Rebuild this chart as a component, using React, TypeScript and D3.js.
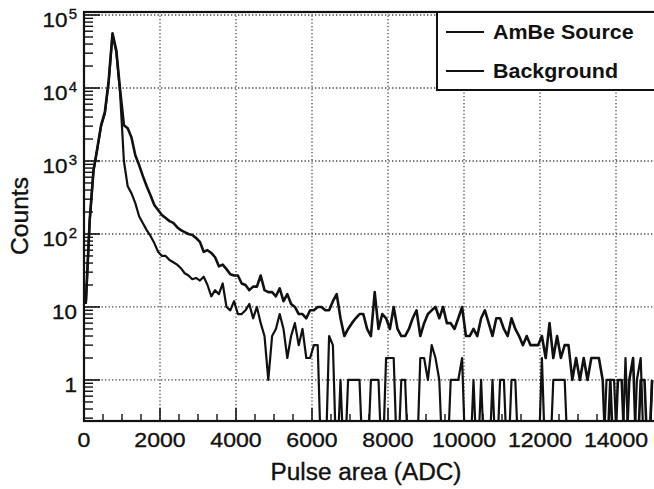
import React from 'react';
import * as d3 from 'd3';

const BIN_WIDTH = 100;

const ambeCounts = [
  12, 155, 750, 1500, 3100, 4700, 12700, 56000, 33000, 9400,
  3100, 2800, 2100, 1200, 880, 620, 450, 340, 250, 213,
  182, 165, 150, 142, 124, 113, 106, 100, 97, 88,
  78, 57, 60, 55, 48, 36, 38, 33, 28, 27,
  27, 21, 20, 17, 19, 19, 27, 17, 16, 16,
  14, 18, 12, 15, 11, 10, 8, 8, 7, 9,
  9, 10, 10, 9, 9, 12, 15, 7, 4, 5,
  6, 7, 8, 8, 5, 4, 16, 5, 8, 7,
  5, 10, 5, 4, 4, 5, 7, 9, 4, 6,
  8, 9, 10, 7, 10, 6, 6, 5, 7, 10,
  4, 4, 5, 4, 7, 9, 6, 4, 7, 7,
  5, 4, 7, 5, 4, 3, 4, 3, 3, 3,
  4, 2, 6, 2, 4, 2, 3, 3, 1, 2,
  1, 2, 1, 2, 2, 2, 1, 0, 1, 0,
  1, 1, 0, 1, 2, 0, 1, 1, 0, 1,
];

const backgroundCounts = [
  11, 150, 720, 1450, 3000, 4500, 12000, 54000, 31000, 8500,
  1000, 450, 360, 265, 175, 140, 113, 94, 75, 57,
  50, 50, 44, 41, 38, 34, 29, 27, 24, 25,
  23, 26, 20, 14, 17, 15, 21, 10, 9, 12,
  8, 8, 9, 11, 7, 10, 6, 4, 1, 4,
  5, 8, 5, 2, 4, 6, 3, 5, 2, 2,
  3, 3, 0, 0, 4, 3, 0, 1, 0, 1,
  1, 1, 1, 0, 0, 1, 1, 1, 0, 2,
  2, 2, 0, 1, 1, 0, 0, 0, 2, 2,
  1, 3, 2, 1, 0, 0, 1, 1, 1, 2,
  0, 0, 1, 0, 1, 0, 0, 1, 0, 1,
  1, 0, 1, 1, 0, 0, 0, 0, 0, 0,
  2, 0, 0, 1, 1, 1, 1, 0, 0, 0,
  0, 0, 0, 0, 0, 0, 0, 1, 1, 1,
  0, 0, 2, 0, 0, 1, 2, 0, 0, 1,
];

const xTickValues = [0, 2000, 4000, 6000, 8000, 10000, 12000, 14000];
const yTickValues = [1, 10, 100, 1000, 10000, 100000];
const yTickBases = ['1', '10', '10', '10', '10', '10'];
const yTickExps = ['', '', '2', '3', '4', '5'];
const seriesNames = ['AmBe Source', 'Background'];
const xTitle = 'Pulse area (ADC)';
const yTitle = 'Counts';

const FONT = '"Liberation Sans", Arial, Helvetica, sans-serif';

function SText(props: any) {
  const { x, y, sx = 1, rotate, children, heavy = true, ...rest } = props;
  return (
    <g transform={`translate(${x},${y})${rotate ? ` rotate(${rotate})` : ''} scale(${sx},1)`}>
      <text
        x={0}
        y={0}
        fontFamily={FONT}
        fill="#111"
        stroke={heavy ? '#111' : 'none'}
        strokeWidth={heavy ? 0.35 : 0}
        {...rest}
      >
        {children}
      </text>
    </g>
  );
}

export default function App() {
  const W = 654;
  const H = 489;
  const left = 84;
  const right = 654;
  const top = 12;
  const bottom = 421;

  const x = d3.scaleLinear().domain([0, 15000]).range([left, right]);
  const y = d3.scaleLog().domain([0.274, 1.1e5]).range([bottom, top]);

  const line = d3
    .line<number>()
    .x((_, i) => x(i * BIN_WIDTH + BIN_WIDTH / 2))
    .y((d) => y(Math.max(d, 0.05)));

  const xMinor: number[] = [];
  for (let v = 500; v < 15000; v += 500) if (v % 2000 !== 0) xMinor.push(v);

  const yMinor: number[] = [];
  for (let d = 0.1; d < 1e5; d *= 10) {
    for (let k = 2; k <= 9; k++) {
      const v = k * d;
      if (v >= 0.274 && v <= 1.1e5) yMinor.push(v);
    }
  }

  const gridColor = '#444';

  return (
    <svg
      width={W}
      height={H}
      style={{ position: 'absolute', left: 0, top: 0, background: '#fff' }}
    >
      <defs>
        <clipPath id="plotClip">
          <rect x={left} y={top} width={right - left + 2} height={bottom - top} />
        </clipPath>
      </defs>
      <rect x={0} y={0} width={W} height={H} fill="#fff" />

      {/* grid */}
      {xTickValues
        .filter((v) => v > 0)
        .map((v) => (
          <line
            key={'gx' + v}
            x1={x(v)}
            x2={x(v)}
            y1={top}
            y2={bottom}
            stroke={gridColor}
            strokeWidth={1.3}
            strokeDasharray="1.3,2.2"
          />
        ))}
      {yTickValues.map((v) => (
        <line
          key={'gy' + v}
          x1={left}
          x2={right}
          y1={y(v)}
          y2={y(v)}
          stroke={gridColor}
          strokeWidth={1.3}
          strokeDasharray="1.3,2.2"
        />
      ))}

      {/* curves */}
      <g clipPath="url(#plotClip)" fill="none" stroke="#111" strokeLinejoin="round">
        <path d={line(backgroundCounts) || ''} strokeWidth={2.2} />
        <path d={line(ambeCounts) || ''} strokeWidth={2.6} />
      </g>

      {/* ticks */}
      {yTickValues.map((v) => (
        <line key={'ty' + v} x1={left} x2={left + 16} y1={y(v)} y2={y(v)} stroke="#111" strokeWidth={1.6} />
      ))}
      {yMinor.map((v, i) => (
        <line key={'tym' + i} x1={left} x2={left + 9} y1={y(v)} y2={y(v)} stroke="#111" strokeWidth={1.4} />
      ))}
      {xTickValues.map((v) => (
        <line key={'tx' + v} x1={x(v)} x2={x(v)} y1={bottom} y2={bottom - 13} stroke="#111" strokeWidth={1.6} />
      ))}
      {xMinor.map((v) => (
        <line key={'txm' + v} x1={x(v)} x2={x(v)} y1={bottom} y2={bottom - 7} stroke="#111" strokeWidth={1.4} />
      ))}

      {/* frame */}
      <rect x={left} y={top} width={right - left + 4} height={bottom - top} fill="none" stroke="#111" strokeWidth={2.2} />

      {/* x tick labels */}
      {xTickValues.map((v) => (
        <SText key={'lx' + v} x={x(v)} y={447} sx={1.1} fontSize={21} textAnchor="middle">
          {String(v)}
        </SText>
      ))}

      {/* y tick labels */}
      {yTickValues.map((v, i) => (
        <SText key={'ly' + v} x={77} y={y(v) + 12} sx={1.07} fontSize={21} textAnchor="end">
          {yTickBases[i]}
          {yTickExps[i] ? (
            <tspan fontSize={14} dy={-8} dx={1}>
              {yTickExps[i]}
            </tspan>
          ) : null}
        </SText>
      ))}

      {/* axis titles */}
      <SText x={366} y={480} sx={1.06} fontSize={23} textAnchor="middle">
        {xTitle}
      </SText>
      <SText x={28} y={216} sx={1.07} rotate={-90} fontSize={23} textAnchor="middle">
        {yTitle}
      </SText>

      {/* legend */}
      <rect x={437} y={12} width={230} height={78} fill="#fff" stroke="#111" strokeWidth={2} />
      {seriesNames.map((name, i) => {
        const ly = i === 0 ? 32 : 71;
        return (
          <g key={name}>
            <line x1={446} x2={484} y1={ly} y2={ly} stroke="#111" strokeWidth={2} />
            <SText x={493} y={ly + 7} sx={1.1} fontSize={19.5} fontWeight="bold" heavy={false}>
              {name}
            </SText>
          </g>
        );
      })}
    </svg>
  );
}
